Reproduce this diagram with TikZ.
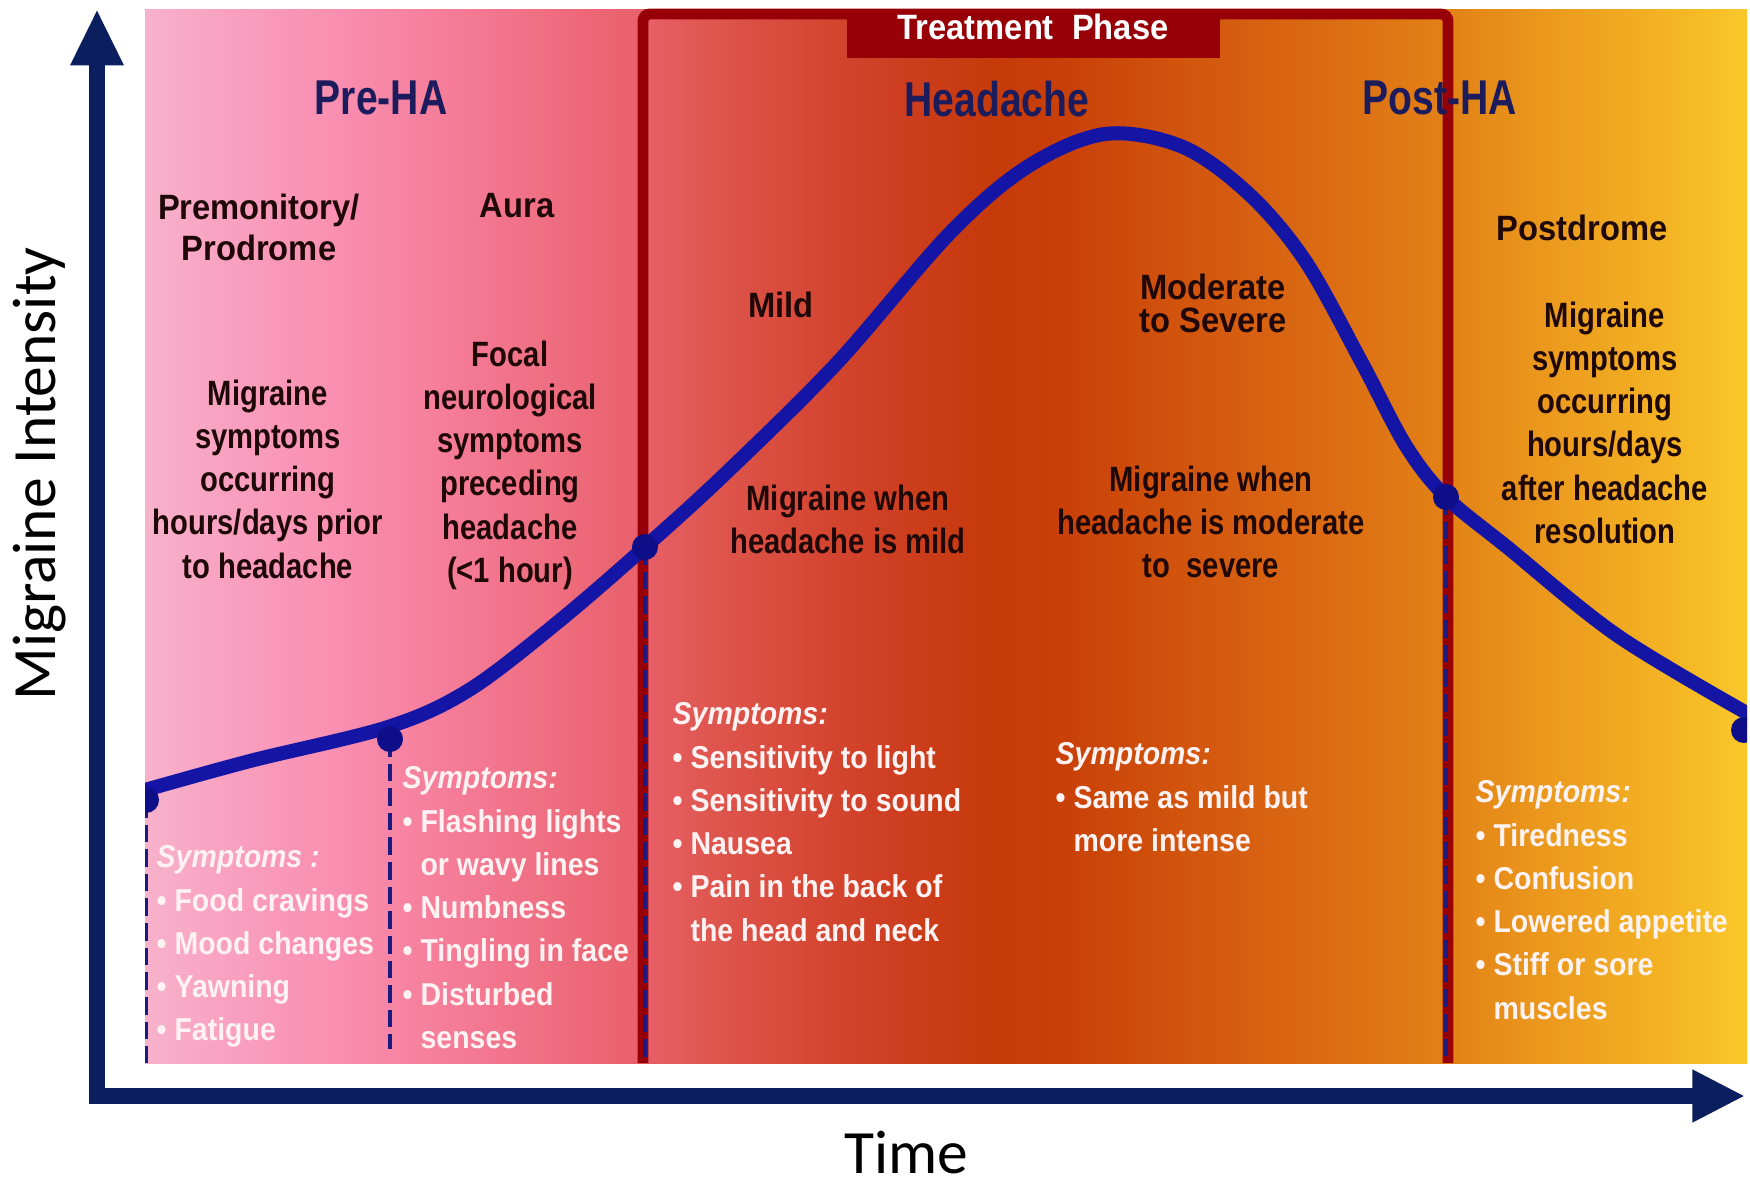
\documentclass[tikz,border=0pt]{standalone}
\usepackage{fontspec}
\usetikzlibrary{arrows.meta}

% Faces
\newfontfamily\hdfont[FakeStretch=0.80]{Liberation Sans}
\newfontfamily\ttlfont[FakeStretch=0.93]{Liberation Sans}
\newfontfamily\bdyfont[FakeStretch=0.83]{Liberation Sans}
\newfontfamily\symfont[FakeStretch=0.90]{Liberation Sans}
\newfontfamily\axfont{Carlito}

% Palette
\definecolor{axisnavy}{HTML}{0B1F5E}
\definecolor{curveblue}{HTML}{1515A5}
\definecolor{dotblue}{HTML}{0E0E88}
\definecolor{dashnavy}{HTML}{1A1A80}
\definecolor{treatred}{HTML}{980008}
\definecolor{headnavy}{HTML}{1C1C5C}
\definecolor{inkdark}{HTML}{1E0808}
\definecolor{symwhite}{HTML}{FFF2F2}

% Phase background, pink through red to yellow
\definecolor{g0}{HTML}{F7B2CB}
\definecolor{g1}{HTML}{F9A0C0}
\definecolor{g2}{HTML}{F98EB0}
\definecolor{g3}{HTML}{F57C98}
\definecolor{g4}{HTML}{EE6C7E}
\definecolor{g5}{HTML}{E8606A}
\definecolor{g6}{HTML}{E05852}
\definecolor{g7}{HTML}{D84A3A}
\definecolor{g8}{HTML}{CE3E22}
\definecolor{g9}{HTML}{C63A0A}
\definecolor{g10}{HTML}{C83E08}
\definecolor{g11}{HTML}{CD4A0A}
\definecolor{g12}{HTML}{D55C10}
\definecolor{g13}{HTML}{DC6E14}
\definecolor{g14}{HTML}{E38216}
\definecolor{g15}{HTML}{EC9C1E}
\definecolor{g16}{HTML}{F4B424}
\definecolor{g17}{HTML}{FAC82A}

\pgfdeclarehorizontalshading{phasebg}{100bp}{%
  color(0bp)=(g0); color(25bp)=(g0); color(27.65bp)=(g1); color(31.09bp)=(g2);
  color(34.52bp)=(g3); color(37.96bp)=(g4); color(40.45bp)=(g5); color(42.32bp)=(g6);
  color(45.13bp)=(g7); color(48.25bp)=(g8); color(51.37bp)=(g9); color(53.24bp)=(g10);
  color(55.43bp)=(g11); color(58.86bp)=(g12); color(62.29bp)=(g13); color(65.73bp)=(g14);
  color(69.16bp)=(g15); color(72.60bp)=(g16); color(75bp)=(g17); color(100bp)=(g17)}

\tikzset{
  axisln/.style={axisnavy, line width=4.8pt},
  curveln/.style={curveblue, line width=4pt, line cap=round, line join=round},
  dotmark/.style={fill=dotblue},
  dashln/.style={dashnavy, line width=1.4pt, dash pattern=on 5pt off 2pt},
  axlbl/.style={font=\axfont\fontsize{17.5}{20}\selectfont, text=black, inner sep=0pt},
  hdr/.style={font=\hdfont\bfseries\fontsize{13.9}{16}\selectfont, text=headnavy, inner sep=0pt, anchor=north},
  ttl/.style={font=\ttlfont\bfseries\fontsize{10}{11.75}\selectfont, text=inkdark, inner sep=0pt, anchor=north, align=center},
  bdy/.style={font=\bdyfont\bfseries\fontsize{10}{12.3}\selectfont, text=inkdark, inner sep=0pt, anchor=north, align=center},
  sym/.style={font=\symfont\bfseries\fontsize{9}{12.3}\selectfont, text=symwhite, inner sep=0pt, anchor=north west, align=left},
}

\begin{document}
\begin{tikzpicture}[x=0.01cm, y=-0.01cm]
\useasboundingbox (0,0) rectangle (1750,1184);
\fill[white] (0,0) rectangle (1750,1184);

% background band
\shade[shading=phasebg] (145,9) rectangle (1747,1063);

% treatment frame and its tab
\fill[treatred] (847,9) rectangle (1220,58);
\draw[treatred, line width=3.1pt, rounded corners=2pt] (643,1063) -- (643,14) -- (1448,14) -- (1448,1063);
\node[ttl, text=white] (treat) at (1033,13) {Treatment~~Phase};

% phase markers on the curve
\coordinate (d1) at (146,800);
\coordinate (d2) at (390,739);
\coordinate (d3) at (645,547);
\coordinate (d4) at (1446,497);
\coordinate (d5) at (1744,730);
\coordinate (b1) at (146,1063);
\coordinate (b2) at (390,1049);
\coordinate (b3) at (645,1063);
\coordinate (b4) at (1446,1063);

\begin{scope}
  \clip (145,9) rectangle (1747,1063);
  \draw[dashln] (d1) -- (b1);
  \draw[dashln] (d2) -- (b2);
  \draw[dashln] (d3) -- (b3);
  \draw[dashln] (d4) -- (b4);
  \draw[curveln] plot[smooth, tension=0.55] coordinates {
    (138,792) (250,761) (388,727) (469,690) (558,622) (645,547)
    (725,474) (837,363) (949,234) (1027,167) (1105,134) (1183,147)
    (1250,195) (1306,262) (1362,363) (1406,446) (1446,497) (1507,547)
    (1618,636) (1752,716)};
  \foreach \d in {d1,d2,d3,d4,d5} \fill[dotmark] (\d) circle[radius=3.7pt];
\end{scope}

% axes
\draw[axisln, -{Triangle[length=16pt,width=14pt]}] (97,1104) -- (97,9);
\draw[axisln, -{Triangle[length=15pt,width=14pt]}] (89,1096) -- (1745,1096);
\node[axlbl, rotate=90] (ylab) at (40,474) {Migraine Intensity};
\node[axlbl] (xlab) at (906,1153) {Time};

% phase headings
\node[hdr] (preha) at (381,80) {Pre-HA};
\node[hdr] (headache) at (997,80) {Headache};
\node[hdr] (postha) at (1440,80) {Post-HA};

% stage titles
\node[ttl] (prodrome) at (259,193) {Premonitory/\\Prodrome};
\node[ttl] (aura) at (517,193) {Aura};
\node[ttl] (mild) at (781,291) {Mild};
\node[ttl, font=\ttlfont\bfseries\fontsize{10}{9.5}\selectfont] (modsev) at (1213,273) {Moderate\\to Severe};
\node[ttl] (postdrome) at (1582,214) {Postdrome};

% stage descriptions
\node[bdy] (predesc) at (268,379) {Migraine\\symptoms\\occurring\\hours/days prior\\to headache};
\node[bdy] (auradesc) at (510,340) {Focal\\neurological\\symptoms\\preceding\\headache\\(<1 hour)};
\node[bdy] (milddesc) at (848,484) {Migraine when\\headache is mild};
\node[bdy] (moddesc) at (1211,465) {Migraine when\\headache is moderate\\to~~severe};
\node[bdy] (postdesc) at (1605,301) {Migraine\\symptoms\\occurring\\hours/days\\after headache\\resolution};

% symptom lists
\node[sym] (sym1) at (156,845) {{\itshape Symptoms :}\\• Food cravings\\• Mood changes\\• Yawning\\• Fatigue};
\node[sym] (sym2) at (402,766) {{\itshape Symptoms:}\\• Flashing lights\\\hphantom{• }or wavy lines\\• Numbness\\• Tingling in face\\• Disturbed\\\hphantom{• }senses};
\node[sym] (sym3) at (672,702) {{\itshape Symptoms:}\\• Sensitivity to light\\• Sensitivity to sound\\• Nausea\\• Pain in the back of\\\hphantom{• }the head and neck};
\node[sym] (sym4) at (1055,742) {{\itshape Symptoms:}\\• Same as mild but\\\hphantom{• }more intense};
\node[sym] (sym5) at (1475,780) {{\itshape Symptoms:}\\• Tiredness\\• Confusion\\• Lowered appetite\\• Stiff or sore\\\hphantom{• }muscles};
\end{tikzpicture}
\end{document}
